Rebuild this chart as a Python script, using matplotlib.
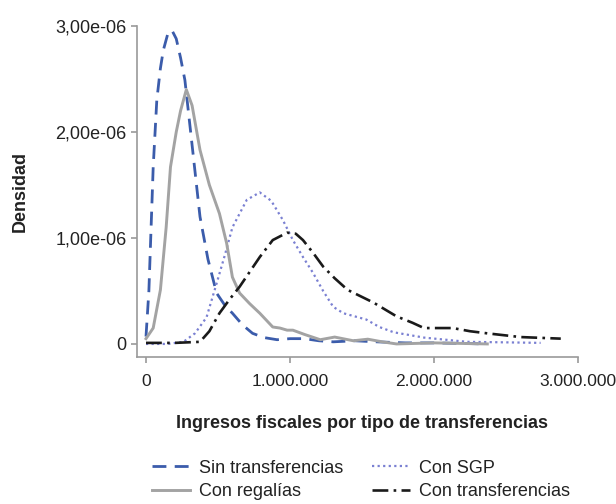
import matplotlib
matplotlib.use("Agg")
import matplotlib.pyplot as plt
import numpy as np
from matplotlib.ticker import FuncFormatter

plt.rcParams['font.family'] = ['Liberation Sans', 'DejaVu Sans']

# densidades (x en millones, y en 1e-06)
x_sin = [0, 0.02, 0.05, 0.075, 0.1, 0.12, 0.15, 0.18, 0.21, 0.24, 0.27, 0.31, 0.375, 0.43,
         0.49, 0.55, 0.6, 0.67, 0.74, 0.82, 0.91, 1.0, 1.1, 1.2, 1.3, 1.45, 1.6, 1.8, 2.0, 2.2, 2.35]
y_sin = [0.07, 0.5, 1.67, 2.3, 2.6, 2.77, 2.92, 2.96, 2.88, 2.7, 2.49, 2.0, 1.2, 0.8,
         0.48, 0.36, 0.29, 0.18, 0.1, 0.06, 0.04, 0.05, 0.05, 0.03, 0.02, 0.03, 0.02, 0.01, 0.01, 0.005, 0.0]

x_reg = [0, 0.05, 0.1, 0.14, 0.17, 0.21, 0.24, 0.28, 0.32, 0.375, 0.44, 0.51, 0.56, 0.6, 0.65,
         0.72, 0.79, 0.88, 0.93, 0.98, 1.02, 1.1, 1.21, 1.31, 1.44, 1.54, 1.64, 1.74, 2.0, 2.37]
y_reg = [0.05, 0.15, 0.51, 1.1, 1.67, 2.0, 2.2, 2.4, 2.25, 1.83, 1.5, 1.23, 0.95, 0.63, 0.48,
         0.38, 0.29, 0.16, 0.15, 0.13, 0.13, 0.09, 0.04, 0.065, 0.03, 0.045, 0.02, 0.0, 0.01, 0.0]

x_sgp = [0, 0.15, 0.26, 0.34, 0.42, 0.49, 0.55, 0.6, 0.7, 0.79, 0.87, 0.95, 1.02, 1.09, 1.16,
         1.23, 1.3, 1.37, 1.53, 1.62, 1.72, 1.93, 2.23, 2.5, 2.74]
y_sgp = [0.0, 0.0, 0.02, 0.1, 0.25, 0.57, 0.85, 1.1, 1.36, 1.43, 1.35, 1.17, 0.98, 0.82, 0.67,
         0.5, 0.35, 0.29, 0.23, 0.16, 0.11, 0.06, 0.02, 0.015, 0.01]

x_tr = [0, 0.2, 0.375, 0.44, 0.51, 0.58, 0.65, 0.72, 0.79, 0.88, 0.98, 1.04, 1.09, 1.16, 1.23,
        1.31, 1.4, 1.58, 1.74, 1.85, 1.93, 2.13, 2.25, 2.37, 2.6, 2.88]
y_tr = [0.01, 0.01, 0.02, 0.12, 0.29, 0.42, 0.54, 0.68, 0.82, 0.98, 1.05, 1.04, 0.98, 0.86, 0.73,
        0.62, 0.51, 0.39, 0.26, 0.2, 0.15, 0.15, 0.12, 0.1, 0.065, 0.05]

fig = plt.figure(figsize=(6.16, 5.04), dpi=100)
ax = fig.add_axes([0.2224, 0.2917, 0.716, 0.6567])

def xs(v):
    return np.array(v) * 1e6

def ys(v):
    return np.array(v) * 1e-6

l1, = ax.plot(xs(x_sin), ys(y_sin), color='#3b5cab', lw=2.0, ls=(0, (5, 3)), label='Sin transferencias')
l3, = ax.plot(xs(x_sgp), ys(y_sgp), color='#7a80d2', lw=1.6, ls=(0, (1, 1.5)), label='Con SGP')
l2, = ax.plot(xs(x_reg), ys(y_reg), color='#a3a3a3', lw=2.1, ls='-', label='Con regalías')
l4, = ax.plot(xs(x_tr), ys(y_tr), color='#1a1a1a', lw=1.9, ls=(0, (6, 2, 1, 2)), label='Con transferencias')

ax.set_xlim(-0.0625e6, 3.0e6)
ax.set_ylim(-0.123e-6, 3.0e-6)

ax.set_xticks([0, 1e6, 2e6, 3e6])
ax.xaxis.set_major_formatter(FuncFormatter(lambda v, p: '0' if v == 0 else f'{int(v):,}'.replace(',', '.')))
ax.set_yticks([0, 1e-6, 2e-6, 3e-6])
ax.set_yticklabels(['0', '1,00e-06', '2,00e-06', '3,00e-06'])

for s in ['top', 'right']:
    ax.spines[s].set_visible(False)
for s in ['left', 'bottom']:
    ax.spines[s].set_color('#9a9a9a')
    ax.spines[s].set_linewidth(1.2)
ax.tick_params(colors='#9a9a9a', length=4.5, width=1.2, labelcolor='#222222')
ax.tick_params(axis='x', pad=8, labelsize=12.5)
ax.tick_params(axis='y', pad=3, labelsize=13)

ax.set_xlabel('Ingresos fiscales por tipo de transferencias', fontsize=13, fontweight='bold',
              color='#222222', va='center')
ax.set_ylabel('Densidad', fontsize=13, fontweight='bold', color='#222222', va='center')
ax.xaxis.set_label_coords(0.51, -0.2)
ax.yaxis.set_label_coords(-0.265, 0.5)

fig.legend(handles=[l1, l2, l3, l4], ncol=2, loc='lower center', bbox_to_anchor=(0.586, -0.024),
           frameon=False, fontsize=13, handlelength=2.1, columnspacing=1.6, labelspacing=0.35,
           handletextpad=0.5, labelcolor='#222222')

fig.savefig('out.png', dpi=100)
